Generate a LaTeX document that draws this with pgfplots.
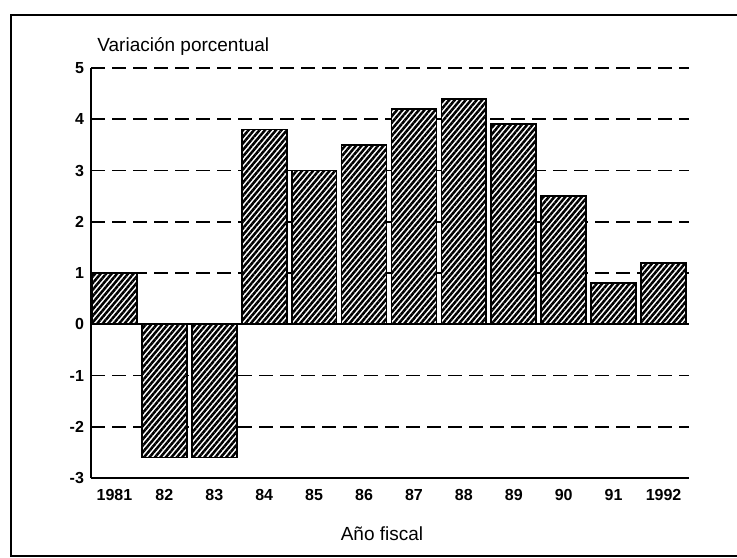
\documentclass[border=0pt]{standalone}
\usepackage{fontspec}
\setmainfont{Liberation Sans}
\usepackage{pgfplots}
\pgfplotsset{compat=1.18}
\usetikzlibrary{patterns.meta}
\begin{document}
\begin{tikzpicture}
\path[use as bounding box] (-45.5pt,-39.5pt) rectangle (323pt,239pt);
\draw[line width=1.3pt] (330pt,231.5pt) -- (-40pt,231.5pt) -- (-40pt,-39pt) -- (330pt,-39pt);
\begin{axis}[
 scale only axis, width=299pt, height=205pt,
 xmin=-0.47, xmax=11.51, ymin=-3, ymax=5,
 axis lines*=left,
 axis line style={line width=0.9pt},
 xtick={0,...,11},
 xticklabels={1981,82,83,84,85,86,87,88,89,90,91,1992},
 ytick={-3,-2,-1,1,2,3,4,5},
 yticklabels={-3,-2,-1,1,2,3,4,5},
 extra y ticks={0}, extra y tick labels={0},
 extra y tick style={major grid style={solid, black, line width=0.9pt}},
 ymajorgrids,
 major grid style={black, line width=0.8pt, dash pattern=on 7pt off 3.5pt},
 major tick length=0pt,
 tick label style={font=\fontsize{8}{9.5}\selectfont\bfseries},
 xticklabel style={yshift=-2pt},
]
\addplot[ybar, bar width=0.9, draw=black, line width=0.9pt, fill=white,
  postaction={pattern={Lines[angle=50,distance=2.1pt,line width=1.25pt]}}]
  coordinates {(0,1.0) (1,-2.6) (2,-2.6) (3,3.8) (4,3.0) (5,3.5) (6,4.2) (7,4.4) (8,3.9) (9,2.5) (10,0.8) (11,1.2)};
\end{axis}
\node[anchor=base west, font=\fontsize{9.5}{11}\selectfont, inner sep=0pt] at (3pt,213pt) {Variación porcentual};
\node[anchor=base, font=\fontsize{9.5}{11}\selectfont, inner sep=0pt] at (145.5pt,-31pt) {Año fiscal};
\end{tikzpicture}
\end{document}
